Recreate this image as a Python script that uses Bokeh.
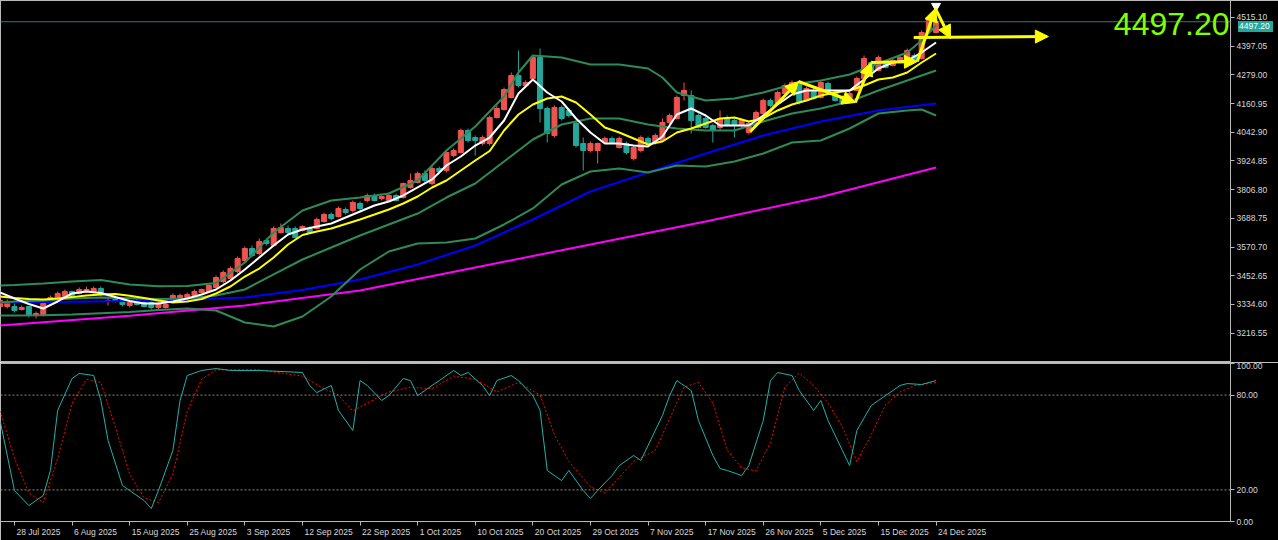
from bokeh.plotting import figure
from bokeh.layouts import column
from bokeh.models import (Range1d, FixedTicker, PrintfTickFormatter, Span, Label,
                          Arrow, NormalHead, ColumnDataSource, Div)
from bokeh.embed import file_html
from bokeh.resources import INLINE

# ---------------- data (daily XAUUSD, bar index 0 = 28 Jul 2025) ----------------
bar_idx = list(range(-2, 129))
opens = [3326.0, 3326.0, 3326.0, 3313.7, 3326.0, 3289.0, 3289.0, 3346.6, 3358.9, 3367.1,
         3387.7, 3379.5, 3387.7, 3383.6, 3400.1, 3346.6, 3354.8, 3350.7, 3330.1, 3350.7,
         3342.5, 3342.5, 3321.9, 3321.9, 3350.7, 3358.9, 3363.0, 3371.3, 3383.6, 3387.7,
         3404.2, 3428.9, 3441.2, 3470.0, 3515.2, 3564.6, 3544.0, 3597.5, 3576.9, 3630.4,
         3646.8, 3646.8, 3638.6, 3646.8, 3646.8, 3675.6, 3704.4, 3696.2, 3725.0, 3720.9,
         3749.7, 3762.0, 3782.6, 3770.2, 3762.0, 3782.6, 3774.3, 3815.5, 3836.0, 3873.0,
         3831.9, 3893.6, 3885.4, 3947.1, 3959.4, 4049.9, 4021.1, 3996.4, 3996.4, 4103.4,
         4136.3, 4185.6, 4276.1, 4235.0, 4263.8, 4350.2, 4140.4, 4029.3, 4144.5, 4132.2,
         4078.7, 3996.4, 3967.7, 3967.7, 4000.6, 4017.0, 3980.0, 3996.4, 3934.7, 3967.7,
         4017.0, 4000.6, 4008.8, 4082.8, 4099.3, 4193.9, 4193.9, 4111.6, 4099.3, 4070.5,
         4062.2, 4103.4, 4091.0, 4070.5, 4041.7, 4091.0, 4119.8, 4173.3, 4161.0, 4202.1,
         4214.4, 4247.3, 4173.3, 4214.4, 4185.6, 4243.2, 4206.2, 4185.6, 4165.1, 4214.4,
         4263.8, 4329.6, 4296.7, 4329.6, 4317.3, 4329.6, 4329.6, 4358.4, 4346.0, 4461.2,
         4453.0]
highs = [3358.9, 3354.8, 3338.3, 3330.1, 3330.1, 3305.4, 3346.6, 3371.3, 3387.7, 3395.9,
         3391.8, 3404.2, 3408.3, 3408.3, 3408.3, 3367.1, 3358.9, 3354.8, 3350.7, 3358.9,
         3350.7, 3350.7, 3346.6, 3342.5, 3379.5, 3379.5, 3383.6, 3395.9, 3400.1, 3416.5,
         3453.5, 3474.1, 3490.5, 3531.7, 3572.8, 3576.9, 3605.7, 3605.7, 3655.1, 3667.4,
         3659.2, 3655.1, 3659.2, 3655.1, 3692.1, 3712.6, 3712.6, 3737.3, 3733.2, 3762.0,
         3757.9, 3790.8, 3790.8, 3782.6, 3794.9, 3790.8, 3836.0, 3873.0, 3881.3, 3885.4,
         3901.8, 3901.8, 3967.7, 3975.9, 4058.1, 4058.1, 4029.3, 4029.3, 4111.6, 4152.7,
         4226.8, 4288.5, 4379.0, 4255.6, 4358.4, 4387.2, 4148.6, 4152.7, 4152.7, 4140.4,
         4091.0, 4021.1, 4004.7, 4000.6, 4025.2, 4025.2, 4025.2, 4004.7, 3988.2, 4029.3,
         4025.2, 4037.6, 4099.3, 4119.8, 4193.9, 4247.3, 4214.4, 4119.8, 4107.5, 4078.7,
         4132.2, 4111.6, 4099.3, 4099.3, 4086.9, 4132.2, 4181.5, 4181.5, 4214.4, 4243.2,
         4255.6, 4255.6, 4230.9, 4222.7, 4255.6, 4251.4, 4214.4, 4193.9, 4210.3, 4272.0,
         4358.4, 4337.8, 4358.4, 4337.8, 4346.0, 4358.4, 4387.2, 4366.6, 4461.2, 4522.9,
         4545.0]
lows = [3317.8, 3317.8, 3301.3, 3309.6, 3280.8, 3276.7, 3284.9, 3342.5, 3354.8, 3363.0,
        3367.1, 3375.4, 3383.6, 3379.5, 3367.1, 3330.1, 3342.5, 3326.0, 3321.9, 3330.1,
        3321.9, 3313.7, 3313.7, 3317.8, 3342.5, 3354.8, 3358.9, 3367.1, 3379.5, 3383.6,
        3400.1, 3420.6, 3437.1, 3461.8, 3507.0, 3527.6, 3535.8, 3576.9, 3572.8, 3626.3,
        3622.2, 3605.7, 3634.5, 3626.3, 3642.7, 3671.5, 3679.7, 3692.1, 3704.4, 3712.6,
        3720.9, 3753.8, 3757.9, 3762.0, 3757.9, 3757.9, 3770.2, 3811.4, 3831.9, 3831.9,
        3823.7, 3873.0, 3877.2, 3938.9, 3955.3, 4000.6, 3947.1, 3988.2, 3988.2, 4099.3,
        4132.2, 4181.5, 4226.8, 4230.9, 4259.7, 4082.8, 4000.6, 4021.1, 4091.0, 4103.4,
        3980.0, 3885.4, 3959.4, 3914.2, 3996.4, 3996.4, 3975.9, 3951.2, 3926.5, 3959.4,
        3992.3, 3992.3, 4004.7, 4074.6, 4095.1, 4173.3, 4037.6, 4058.1, 4058.1, 4000.6,
        4049.9, 4066.4, 4021.1, 4062.2, 4033.5, 4082.8, 4115.7, 4144.5, 4156.8, 4198.0,
        4210.3, 4156.8, 4169.2, 4177.4, 4181.5, 4202.1, 4169.2, 4156.8, 4161.0, 4210.3,
        4259.7, 4288.5, 4292.6, 4304.9, 4313.1, 4325.5, 4325.5, 4333.7, 4341.9, 4457.1,
        4448.9]
closes = [3350.7, 3342.5, 3309.6, 3321.9, 3289.0, 3297.2, 3338.3, 3363.0, 3379.5, 3387.7,
          3371.3, 3395.9, 3395.9, 3400.1, 3375.4, 3350.7, 3346.6, 3334.2, 3342.5, 3334.2,
          3326.0, 3321.9, 3338.3, 3334.2, 3371.3, 3371.3, 3375.4, 3387.7, 3395.9, 3412.4,
          3445.3, 3465.9, 3482.3, 3523.4, 3564.6, 3535.8, 3593.4, 3585.1, 3646.8, 3650.9,
          3630.4, 3609.8, 3655.1, 3630.4, 3683.9, 3704.4, 3687.9, 3729.1, 3712.6, 3753.8,
          3729.1, 3782.6, 3762.0, 3778.5, 3782.6, 3762.0, 3831.9, 3844.3, 3873.0, 3844.3,
          3893.6, 3881.3, 3959.4, 3967.7, 4049.9, 4008.8, 4008.8, 4021.1, 4103.4, 4140.4,
          4218.5, 4276.1, 4235.0, 4247.3, 4350.2, 4140.4, 4037.6, 4144.5, 4099.3, 4111.6,
          3988.2, 3967.7, 3996.4, 3996.4, 4017.0, 4000.6, 4017.0, 3959.4, 3980.0, 4021.1,
          4000.6, 4029.3, 4082.8, 4111.6, 4185.6, 4214.4, 4091.0, 4062.2, 4062.2, 4049.9,
          4099.3, 4070.5, 4070.5, 4091.0, 4078.7, 4123.9, 4173.3, 4152.7, 4206.2, 4235.0,
          4247.3, 4165.1, 4222.7, 4181.5, 4247.3, 4206.2, 4173.3, 4161.0, 4202.1, 4263.8,
          4346.0, 4296.7, 4350.2, 4309.0, 4337.8, 4350.2, 4379.0, 4337.8, 4453.0, 4514.7,
          4497.2]

ma_fast_idx = list(range(-2, 129, 2))
ma_fast = [3383.6, 3358.9, 3336.3, 3317.8, 3346.6, 3379.5, 3387.7, 3381.5, 3365.1, 3348.7,
           3338.3, 3338.3, 3346.6, 3358.9, 3375.4, 3395.9, 3433.0, 3478.2, 3527.6, 3576.9,
           3622.2, 3642.7, 3655.1, 3667.4, 3692.1, 3716.8, 3741.4, 3757.9, 3782.6, 3815.5,
           3848.4, 3906.0, 3943.0, 3988.2, 4021.1, 4091.0, 4202.1, 4259.7, 4206.2, 4169.2,
           4099.3, 4041.7, 3996.4, 3996.4, 3988.2, 3984.1, 4025.2, 4115.7, 4140.4, 4111.6,
           4070.5, 4070.5, 4070.5, 4111.6, 4156.8, 4198.0, 4214.4, 4214.4, 4214.4, 4214.4,
           4259.7, 4304.9, 4329.6, 4337.8, 4370.7, 4411.9]
ma_mid_idx = list(range(-2, 129, 2))
ma_mid = [3367.1, 3360.9, 3356.5, 3354.8, 3358.9, 3364.6, 3371.3, 3375.4, 3377.4, 3370.0,
          3360.9, 3350.7, 3342.5, 3346.6, 3356.9, 3379.5, 3408.3, 3449.4, 3482.3, 3527.6,
          3581.0, 3620.1, 3634.5, 3646.8, 3665.3, 3683.9, 3704.4, 3725.0, 3749.7, 3778.5,
          3815.5, 3844.3, 3885.4, 3926.5, 3965.6, 4049.9, 4115.7, 4156.8, 4181.5, 4189.8,
          4165.1, 4115.7, 4062.2, 4041.7, 4017.0, 3992.3, 4004.7, 4041.7, 4058.1, 4078.7,
          4099.3, 4103.4, 4086.9, 4099.3, 4132.2, 4156.8, 4173.3, 4193.9, 4206.2, 4214.4,
          4235.0, 4259.7, 4267.9, 4288.5, 4329.6, 4366.6]
bb_up_idx = [-2, 0, 4, 8, 12, 16, 20, 24, 28, 32, 36, 40, 44, 48, 52, 56, 60, 64, 68, 70,
             72, 76, 80, 84, 88, 90, 92, 96, 100, 104, 108, 112, 116, 120, 124, 126, 128]
bb_up = [3412.4, 3414.5, 3420.6, 3428.9, 3435.0, 3416.5, 3409.5, 3410.3, 3422.7, 3507.0,
         3630.4, 3720.9, 3762.0, 3774.3, 3790.8, 3844.3, 3967.7, 4066.4, 4189.8, 4288.5,
         4358.4, 4350.2, 4321.4, 4321.4, 4304.9, 4267.9, 4206.2, 4173.3, 4181.5, 4206.2,
         4239.1, 4255.6, 4280.2, 4325.5, 4370.7, 4420.1, 4481.8]
bb_mid_idx = [-2] + list(range(0, 129, 4))
bb_mid = [3342.5, 3346.6, 3350.7, 3358.9, 3363.0, 3360.2, 3356.9, 3358.9, 3371.3, 3395.9,
          3457.7, 3519.3, 3568.7, 3618.0, 3663.3, 3708.5, 3774.3, 3831.9, 3922.4, 4012.9,
          4074.6, 4099.3, 4099.3, 4074.6, 4058.1, 4049.9, 4049.9, 4086.9, 4119.8, 4140.4,
          4169.2, 4214.4, 4255.6, 4296.7]
bb_low_idx = [-2] + list(range(0, 125, 4)) + [126, 128]
bb_low = [3289.0, 3289.0, 3290.2, 3293.1, 3298.5, 3303.4, 3311.6, 3317.8, 3309.6, 3260.2,
          3243.8, 3284.9, 3367.1, 3478.2, 3552.2, 3585.1, 3589.3, 3605.7, 3663.3, 3729.1,
          3827.8, 3881.3, 3893.6, 3877.2, 3905.9, 3901.8, 3922.4, 3955.3, 4000.6, 4008.8,
          4058.1, 4119.8, 4132.2, 4136.3, 4111.6]
ma_slow_idx = [-2] + list(range(8, 129, 8))
ma_slow = [3342.5, 3345.3, 3348.2, 3353.6, 3363.0, 3393.5, 3437.1, 3498.8, 3576.9,
           3683.9, 3799.0, 3877.2, 3955.3, 4029.3, 4086.9, 4132.2, 4160.9]
ma_long_idx = [-2, 16, 32, 48, 64, 80, 96, 112, 128]
ma_long = [3247.9, 3288.2, 3330.1, 3391.8, 3486.4, 3581.0, 3675.6, 3776.4, 3897.7]

stoch_idx = [-2, 0, 2, 4, 5, 6, 8, 9, 11, 12, 13, 15, 16, 18, 19, 20, 22, 23, 24, 26,
             28, 30, 34, 40, 41, 42, 44, 45, 47, 48, 49, 51, 52, 54, 55, 56, 58, 59, 61, 62,
             63, 65, 66, 67, 69, 70, 72, 73, 74, 76, 77, 79, 80, 81, 83, 84, 86, 87, 88, 90,
             91, 92, 94, 95, 97, 98, 99, 101, 102, 104, 105, 106, 108, 109, 111, 112, 113, 115,
             116, 117, 119, 120, 122, 123, 124, 126, 128]
stoch_main = [63.9, 19.6, 10.1, 16.5, 32.3, 70.3, 90.5, 93.7, 92.4, 76.6,
              51.3, 22.8, 19.6, 13.3, 8.2, 19.6, 44.9, 76.6, 92.4, 95.6,
              96.8, 95.6, 95.6, 94.3, 86.1, 81.6, 86.1, 70.3, 57.6, 89.2,
              86.1, 76.6, 79.7, 90.5, 89.2, 79.7, 86.1, 89.2, 95.6, 92.4,
              94.3, 86.1, 79.7, 89.2, 92.4, 89.2, 79.7, 70.3, 32.3, 25.9,
              32.3, 19.6, 14.6, 19.6, 29.1, 35.4, 41.8, 38.6, 48.1, 67.1,
              79.7, 89.2, 82.9, 63.9, 41.8, 33.5, 32.3, 29.1, 35.4, 63.9,
              89.2, 94.3, 92.4, 82.9, 70.3, 76.6, 63.9, 44.9, 35.4, 57.6,
              73.4, 76.6, 82.9, 86.1, 87.3, 86.7, 89.2]
sig_idx = [-2, 0, 2, 4, 6, 8, 10, 12, 14, 16, 18, 20, 22, 24, 26, 28, 34, 40, 43, 45,
           47, 49, 52, 55, 58, 61, 64, 67, 70, 73, 75, 77, 80, 82, 84, 86, 89, 91, 93, 95,
           97, 99, 101, 103, 105, 107, 109, 111, 113, 115, 117, 119, 121, 123, 125, 128]
sig_vals = [70, 40, 18, 12, 40, 75, 90, 88, 60, 30, 15, 12, 30, 70, 90, 96, 96, 92, 84, 80,
            70, 75, 82, 85, 84, 92, 90, 82, 88, 80, 55, 38, 22, 18, 28, 38, 45, 65, 85, 88,
            75, 45, 34, 32, 50, 85, 94, 86, 75, 60, 38, 55, 74, 82, 86, 88]

price_ticks = [3216.55, 3334.60, 3452.65, 3570.70, 3688.75, 3806.80, 3924.85, 4042.90,
               4160.95, 4279.00, 4397.05, 4515.10]
stoch_ticks = [0, 20, 80, 100]
stoch_levels = [80, 20]
date_ticks = list(range(0, 129, 8))
date_labels = ["28 Jul 2025", "6 Aug 2025", "15 Aug 2025", "25 Aug 2025", "3 Sep 2025",
               "12 Sep 2025", "22 Sep 2025", "1 Oct 2025", "10 Oct 2025", "20 Oct 2025",
               "29 Oct 2025", "7 Nov 2025", "17 Nov 2025", "26 Nov 2025", "5 Dec 2025",
               "15 Dec 2025", "24 Dec 2025"]
last_price = 4497.20
high_mark_idx = [128]
high_mark_price = [4562.0]
zz_idx = [102.2, 108.9, 116.8, 119.0, 125.4, 127.9, 130.0]
zz_price = [4045.8, 4251.4, 4165.1, 4329.6, 4333.7, 4551.7, 4428.3]
hz_idx = [124.9, 143.6]
hz_price = [4432.4, 4436.5]

# ---------------- styling ----------------
BG = "#000000"
AXC = "#b8b8b8"
TXT = "#d8d8d8"
UP = "#ef5350"
DN = "#26a69a"
BBC = "#2e8b57"
FONT = "Liberation Sans"
FS = 8.5
X0, X1 = -1.94, 168.9
Y0, Y1 = 3099.8, 4584.6
W = 1278
FRAME_W, FRAME_H = 1230, 361
RB = W - FRAME_W


def style_axis(ax):
    ax.axis_line_color = AXC
    ax.major_tick_line_color = AXC
    ax.minor_tick_line_color = None
    ax.major_tick_in = 0
    ax.major_tick_out = 4
    ax.major_label_text_color = TXT
    ax.major_label_text_font = FONT
    ax.major_label_text_font_size = "%gpx" % FS
    ax.major_label_standoff = 2


p = figure(width=W, height=FRAME_H + 1, x_range=Range1d(X0, X1), y_range=Range1d(Y0, Y1),
           output_backend="svg", toolbar_location=None, x_axis_location=None,
           y_axis_location="right", background_fill_color=BG, border_fill_color=BG,
           min_border_left=0, min_border_right=RB, min_border_top=0,
           min_border_bottom=1, outline_line_color=AXC)
p.grid.visible = False
style_axis(p.yaxis[0])
p.yaxis[0].ticker = FixedTicker(ticks=price_ticks)
p.yaxis[0].formatter = PrintfTickFormatter(format="%.2f")

# candles
up = [k for k in range(len(bar_idx)) if closes[k] >= opens[k]]
dn = [k for k in range(len(bar_idx)) if closes[k] < opens[k]]
for sel, col in ((up, UP), (dn, DN)):
    src = ColumnDataSource(dict(
        x=[bar_idx[k] for k in sel],
        o=[opens[k] for k in sel], c=[closes[k] for k in sel],
        h=[highs[k] for k in sel], l=[lows[k] for k in sel]))
    p.segment(x0="x", y0="l", x1="x", y1="h", source=src, line_color=col, line_width=1)
    p.vbar(x="x", width=0.7, top="c", bottom="o", source=src, fill_color=col, line_color=col)

# indicators
p.line(ma_long_idx, ma_long, line_color="#ff00ff", line_width=2)
p.line(ma_slow_idx, ma_slow, line_color="#0000ff", line_width=2)
p.line(bb_up_idx, bb_up, line_color=BBC, line_width=2)
p.line(bb_mid_idx, bb_mid, line_color=BBC, line_width=2)
p.line(bb_low_idx, bb_low, line_color=BBC, line_width=2)
p.line(ma_mid_idx, ma_mid, line_color="#ffff00", line_width=2)
p.line(ma_fast_idx, ma_fast, line_color="#ffffff", line_width=2)

# price line and markers
p.add_layout(Span(location=last_price, dimension="width", line_color="#2f7a76", line_width=1))
p.scatter(high_mark_idx, high_mark_price, marker="inverted_triangle", size=9,
          fill_color="white", line_color="white")

# yellow drawn arrows
for k in range(len(zz_idx) - 1):
    p.add_layout(Arrow(x_start=zz_idx[k], y_start=zz_price[k], x_end=zz_idx[k + 1],
                       y_end=zz_price[k + 1], line_color="#ffff00", line_width=3,
                       end=NormalHead(size=13, fill_color="#ffff00", line_color="#ffff00")))
p.add_layout(Arrow(x_start=hz_idx[0], y_start=hz_price[0], x_end=hz_idx[1], y_end=hz_price[1],
                   line_color="#ffff00", line_width=3,
                   end=NormalHead(size=13, fill_color="#ffff00", line_color="#ffff00")))

p.add_layout(Label(x=X1, y=4486.0, x_offset=-1, text="%.2f" % last_price, text_align="right",
                   text_baseline="alphabetic", text_color="#7fff00", text_font=FONT,
                   text_font_size="32px"))

# ---------------- stochastic ----------------
s = figure(width=W, height=178, x_range=p.x_range, y_range=Range1d(0, 100),
           output_backend="svg", toolbar_location=None, y_axis_location="right",
           background_fill_color=BG, border_fill_color=BG, min_border_left=0,
           min_border_right=RB, min_border_top=1, min_border_bottom=19,
           outline_line_color=AXC)
s.grid.visible = False
style_axis(s.yaxis[0])
s.yaxis[0].ticker = FixedTicker(ticks=stoch_ticks)
s.yaxis[0].formatter = PrintfTickFormatter(format="%.2f")

# time axis: tick marks drawn at the dates (as minor ticks), each label starting at its tick
CHAR_W = {" ": 0.278, "J": 0.5, "l": 0.222, "A": 0.667, "S": 0.667, "O": 0.778, "c": 0.5,
          "t": 0.278, "N": 0.722, "v": 0.5, "D": 0.722}


def text_px(txt):
    return sum(CHAR_W.get(ch, 0.556) for ch in txt) * FS


bar_px = FRAME_W / (X1 - X0)
label_pos = [round(t + (text_px(lab) / 2 + 2) / bar_px, 3)
             for t, lab in zip(date_ticks, date_labels)]
tax = s.xaxis[0]
style_axis(tax)
tax.ticker = FixedTicker(ticks=label_pos, minor_ticks=date_ticks)
tax.major_label_overrides = {pos: lab for pos, lab in zip(label_pos, date_labels)}
tax.major_tick_line_color = None
tax.minor_tick_line_color = AXC
tax.minor_tick_in = 0
tax.minor_tick_out = 4
tax.major_label_standoff = 1

for lv in stoch_levels:
    s.add_layout(Span(location=lv, dimension="width", line_color="#8a8a8a", line_width=1,
                      line_dash="2 2"))
s.line(sig_idx, sig_vals, line_color="#ff0000", line_width=1, line_dash="2 2")
s.line(stoch_idx, stoch_main, line_color="#20b2aa", line_width=1)

# current-price box on the price scale (positioned over the right axis)
box_top = (Y1 - last_price) / (Y1 - Y0) * FRAME_H - 5.5
price_box = Div(text="%.2f" % last_price, width=35, height=11,
                styles={"position": "absolute", "left": "%dpx" % (FRAME_W + 3),
                        "top": "%dpx" % round(box_top), "background-color": "#26a69a",
                        "color": "#ffffff", "font-family": FONT, "font-size": "%gpx" % FS,
                        "line-height": "11px", "padding-left": "1px", "z-index": "10"})

layout = column(p, s, price_box)
open("out.html", "w").write(file_html(layout, INLINE))
